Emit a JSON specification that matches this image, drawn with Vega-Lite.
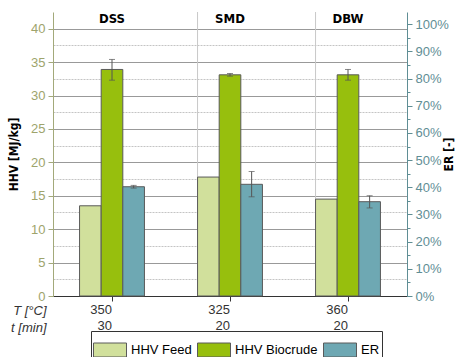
{
  "$schema": "https://vega.github.io/schema/vega-lite/v6.json",
  "width": 354,
  "height": 284,
  "autosize": {"type": "none"},
  "padding": {"left": 53, "top": 12, "right": 59, "bottom": 61},
  "background": "white",
  "config": {"view": {"stroke": null}, "font": "Liberation Sans"},
  "datasets": {
    "hhv": [
      {"Sample": "DSS", "Series": "HHV Feed", "value": 13.5, "lo": null, "hi": null},
      {"Sample": "DSS", "Series": "HHV Biocrude", "value": 33.9, "lo": 32.3, "hi": 35.4},
      {"Sample": "SMD", "Series": "HHV Feed", "value": 17.8, "lo": null, "hi": null},
      {"Sample": "SMD", "Series": "HHV Biocrude", "value": 33.1, "lo": 32.9, "hi": 33.3},
      {"Sample": "DBW", "Series": "HHV Feed", "value": 14.5, "lo": null, "hi": null},
      {"Sample": "DBW", "Series": "HHV Biocrude", "value": 33.1, "lo": 32.3, "hi": 33.9}
    ],
    "er": [
      {"Sample": "DSS", "Series": "ER", "value": 0.402, "lo": 0.397, "hi": 0.407},
      {"Sample": "SMD", "Series": "ER", "value": 0.411, "lo": 0.365, "hi": 0.458},
      {"Sample": "DBW", "Series": "ER", "value": 0.347, "lo": 0.324, "hi": 0.369}
    ],
    "samples": [
      {"Sample": "DSS"},
      {"Sample": "SMD"},
      {"Sample": "DBW"}
    ],
    "dividers": [
      {"Sample": "SMD"},
      {"Sample": "DBW"}
    ]
  },
  "layer": [
    {
      "layer": [
        {
          "data": {"name": "dividers"},
          "mark": {"type": "rule", "color": "#c8c8c8", "strokeWidth": 1},
          "encoding": {
            "x": {"field": "Sample", "type": "nominal", "bandPosition": 0, "sort": ["DSS", "SMD", "DBW"]}
          }
        },
        {
          "data": {"name": "hhv"},
          "mark": {"type": "bar", "stroke": "#5a5a5a", "strokeWidth": 1},
          "encoding": {
            "x": {
              "field": "Sample", "type": "nominal", "sort": ["DSS", "SMD", "DBW"],
              "scale": {"paddingInner": 0.45, "paddingOuter": 0.225},
              "axis": {
                "orient": "bottom",
                "labelExpr": "datum.label == 'DSS' ? ['350','30'] : datum.label == 'SMD' ? ['325','20'] : ['360','20']",
                "labelAngle": 0,
                "labelFontSize": 13,
                "labelColor": "#333333",
                "labelLineHeight": 16,
                "labelPadding": 8,
                "tickSize": 5,
                "tickColor": "#333333",
                "domainColor": "#333333",
                "title": ["T [°C]", "t [min]"],
                "titleFontStyle": "italic",
                "titleFontWeight": "normal",
                "titleFontSize": 13,
                "titleColor": "#333333",
                "titleLineHeight": 17,
                "titleAnchor": "start",
                "titleAlign": "right",
                "titleBaseline": "top",
                "titleX": -7,
                "titleY": 8,
                "grid": false
              }
            },
            "xOffset": {"field": "Series", "type": "nominal", "scale": {"domain": ["HHV Feed", "HHV Biocrude", "ER"]}},
            "y": {
              "field": "value", "type": "quantitative",
              "scale": {"domain": [0, 42.5], "nice": false},
              "axis": {
                "orient": "left",
                "values": [0, 2.5, 5, 7.5, 10, 12.5, 15, 17.5, 20, 22.5, 25, 27.5, 30, 32.5, 35, 37.5, 40],
                "labelExpr": "datum.value % 5 === 0 ? datum.label : ''",
                "labelOverlap": false,
                "labelColor": "#9ea46c",
                "labelFontSize": 13,
                "domainColor": "#a3a97a",
                "tickColor": "#a3a97a",
                "tickSize": {"condition": {"test": "datum.value % 5 !== 0", "value": 0}, "value": 5},
                "labelPadding": 3,
                "grid": true,
                "gridColor": {"condition": {"test": "datum.value % 5 !== 0", "value": "#c4c4c4"}, "value": "#999999"},
                "gridDash": {"condition": {"test": "datum.value % 5 !== 0", "value": [2, 1]}, "value": []},
                "title": "HHV [MJ/kg]",
                "titleFont": "DejaVu Sans Condensed, Roboto Condensed, Roboto, sans-serif",
                "titleFontSize": 12,
                "titleFontWeight": "bold",
                "titleColor": "#000000",
                "titlePadding": 10
              }
            },
            "color": {
              "field": "Series", "type": "nominal",
              "scale": {"domain": ["HHV Feed", "HHV Biocrude", "ER"], "range": ["#d1e09c", "#97bf0d", "#6ea8b3"]},
              "legend": {
                "orient": "none",
                "legendX": 38,
                "legendY": 319,
                "direction": "horizontal",
                "title": null,
                "strokeColor": "#333333",
                "padding": 2,
                "symbolType": "M-1,-0.424H1V0.424H-1Z",
                "symbolSize": 1089,
                "symbolStrokeColor": "#555555",
                "symbolStrokeWidth": 1,
                "symbolOpacity": 1,
                "labelFontSize": 13,
                "labelColor": "#000000",
                "labelOffset": 4,
                "columnPadding": 3
              }
            }
          }
        },
        {
          "data": {"name": "hhv"},
          "mark": {"type": "rule", "color": "#555555", "strokeWidth": 1},
          "encoding": {
            "x": {"field": "Sample", "type": "nominal", "sort": ["DSS", "SMD", "DBW"]},
            "xOffset": {"field": "Series", "type": "nominal", "scale": {"domain": ["HHV Feed", "HHV Biocrude", "ER"]}},
            "y": {"field": "lo", "type": "quantitative", "axis": {
                "orient": "left",
                "values": [0, 2.5, 5, 7.5, 10, 12.5, 15, 17.5, 20, 22.5, 25, 27.5, 30, 32.5, 35, 37.5, 40],
                "labelExpr": "datum.value % 5 === 0 ? datum.label : ''",
                "labelOverlap": false,
                "title": "HHV [MJ/kg]"
              }},
            "y2": {"field": "hi"}
          }
        },
        {
          "data": {"name": "hhv"},
          "mark": {"type": "tick", "color": "#555555", "size": 6, "thickness": 1},
          "encoding": {
            "x": {"field": "Sample", "type": "nominal", "sort": ["DSS", "SMD", "DBW"]},
            "xOffset": {"field": "Series", "type": "nominal", "scale": {"domain": ["HHV Feed", "HHV Biocrude", "ER"]}},
            "y": {"field": "lo", "type": "quantitative", "axis": {
                "orient": "left",
                "values": [0, 2.5, 5, 7.5, 10, 12.5, 15, 17.5, 20, 22.5, 25, 27.5, 30, 32.5, 35, 37.5, 40],
                "labelExpr": "datum.value % 5 === 0 ? datum.label : ''",
                "labelOverlap": false,
                "title": "HHV [MJ/kg]"
              }}
          }
        },
        {
          "data": {"name": "hhv"},
          "mark": {"type": "tick", "color": "#555555", "size": 6, "thickness": 1},
          "encoding": {
            "x": {"field": "Sample", "type": "nominal", "sort": ["DSS", "SMD", "DBW"]},
            "xOffset": {"field": "Series", "type": "nominal", "scale": {"domain": ["HHV Feed", "HHV Biocrude", "ER"]}},
            "y": {"field": "hi", "type": "quantitative", "axis": {
                "orient": "left",
                "values": [0, 2.5, 5, 7.5, 10, 12.5, 15, 17.5, 20, 22.5, 25, 27.5, 30, 32.5, 35, 37.5, 40],
                "labelExpr": "datum.value % 5 === 0 ? datum.label : ''",
                "labelOverlap": false,
                "title": "HHV [MJ/kg]"
              }}
          }
        },
        {
          "data": {"name": "samples"},
          "mark": {"type": "text", "font": "DejaVu Sans Condensed, Roboto Condensed, Roboto, sans-serif", "fontWeight": "bold", "fontSize": 13, "color": "#000000", "baseline": "middle"},
          "encoding": {
            "x": {"field": "Sample", "type": "nominal", "sort": ["DSS", "SMD", "DBW"]},
            "y": {"datum": 41.4, "type": "quantitative", "axis": {
                "orient": "left",
                "values": [0, 2.5, 5, 7.5, 10, 12.5, 15, 17.5, 20, 22.5, 25, 27.5, 30, 32.5, 35, 37.5, 40],
                "labelExpr": "datum.value % 5 === 0 ? datum.label : ''",
                "labelOverlap": false,
                "title": "HHV [MJ/kg]"
              }},
            "text": {"field": "Sample"}
          }
        }
      ]
    },
    {
      "layer": [
        {
          "data": {"name": "er"},
          "mark": {"type": "bar", "stroke": "#5a5a5a", "strokeWidth": 1},
          "encoding": {
            "x": {"field": "Sample", "type": "nominal", "sort": ["DSS", "SMD", "DBW"]},
            "xOffset": {"field": "Series", "type": "nominal", "scale": {"domain": ["HHV Feed", "HHV Biocrude", "ER"]}},
            "y": {
              "field": "value", "type": "quantitative",
              "scale": {"domain": [0, 1.045], "nice": false},
              "axis": {
                "orient": "right",
                "values": [0, 0.05, 0.1, 0.15, 0.2, 0.25, 0.3, 0.35, 0.4, 0.45, 0.5, 0.55, 0.6, 0.65, 0.7, 0.75, 0.8, 0.85, 0.9, 0.95, 1.0],
                "format": ".0%",
                "labelExpr": "round(datum.value * 100) % 10 === 0 ? datum.label : ''",
                "labelOverlap": false,
                "labelColor": "#5f8e95",
                "labelFontSize": 13,
                "domainColor": "#5f8e95",
                "tickColor": "#5f8e95",
                "tickSize": {"condition": {"test": "round(datum.value * 100) % 10 !== 0", "value": 3}, "value": 5},
                "labelPadding": 3,
                "grid": false,
                "title": "ER [-]",
                "titleAngle": 270,
                "titleFont": "DejaVu Sans Condensed, Roboto Condensed, Roboto, sans-serif",
                "titleFontSize": 12,
                "titleFontWeight": "bold",
                "titleColor": "#000000",
                "titlePadding": 7
              }
            },
            "color": {"field": "Series", "type": "nominal", "scale": {"domain": ["HHV Feed", "HHV Biocrude", "ER"], "range": ["#d1e09c", "#97bf0d", "#6ea8b3"]}}
          }
        },
        {
          "data": {"name": "er"},
          "mark": {"type": "rule", "color": "#555555", "strokeWidth": 1},
          "encoding": {
            "x": {"field": "Sample", "type": "nominal", "sort": ["DSS", "SMD", "DBW"]},
            "xOffset": {"field": "Series", "type": "nominal", "scale": {"domain": ["HHV Feed", "HHV Biocrude", "ER"]}},
            "y": {"field": "lo", "type": "quantitative", "axis": {
                "orient": "right",
                "values": [0, 0.05, 0.1, 0.15, 0.2, 0.25, 0.3, 0.35, 0.4, 0.45, 0.5, 0.55, 0.6, 0.65, 0.7, 0.75, 0.8, 0.85, 0.9, 0.95, 1.0],
                "format": ".0%",
                "labelExpr": "round(datum.value * 100) % 10 === 0 ? datum.label : ''",
                "labelOverlap": false,
                "grid": false,
                "title": "ER [-]"
              }},
            "y2": {"field": "hi"}
          }
        },
        {
          "data": {"name": "er"},
          "mark": {"type": "tick", "color": "#555555", "size": 6, "thickness": 1},
          "encoding": {
            "x": {"field": "Sample", "type": "nominal", "sort": ["DSS", "SMD", "DBW"]},
            "xOffset": {"field": "Series", "type": "nominal", "scale": {"domain": ["HHV Feed", "HHV Biocrude", "ER"]}},
            "y": {"field": "lo", "type": "quantitative", "axis": {
                "orient": "right",
                "values": [0, 0.05, 0.1, 0.15, 0.2, 0.25, 0.3, 0.35, 0.4, 0.45, 0.5, 0.55, 0.6, 0.65, 0.7, 0.75, 0.8, 0.85, 0.9, 0.95, 1.0],
                "format": ".0%",
                "labelExpr": "round(datum.value * 100) % 10 === 0 ? datum.label : ''",
                "labelOverlap": false,
                "grid": false,
                "title": "ER [-]"
              }}
          }
        },
        {
          "data": {"name": "er"},
          "mark": {"type": "tick", "color": "#555555", "size": 6, "thickness": 1},
          "encoding": {
            "x": {"field": "Sample", "type": "nominal", "sort": ["DSS", "SMD", "DBW"]},
            "xOffset": {"field": "Series", "type": "nominal", "scale": {"domain": ["HHV Feed", "HHV Biocrude", "ER"]}},
            "y": {"field": "hi", "type": "quantitative", "axis": {
                "orient": "right",
                "values": [0, 0.05, 0.1, 0.15, 0.2, 0.25, 0.3, 0.35, 0.4, 0.45, 0.5, 0.55, 0.6, 0.65, 0.7, 0.75, 0.8, 0.85, 0.9, 0.95, 1.0],
                "format": ".0%",
                "labelExpr": "round(datum.value * 100) % 10 === 0 ? datum.label : ''",
                "labelOverlap": false,
                "grid": false,
                "title": "ER [-]"
              }}
          }
        }
      ]
    }
  ],
  "resolve": {"scale": {"y": "independent"}, "axis": {"y": "independent"}}
}
